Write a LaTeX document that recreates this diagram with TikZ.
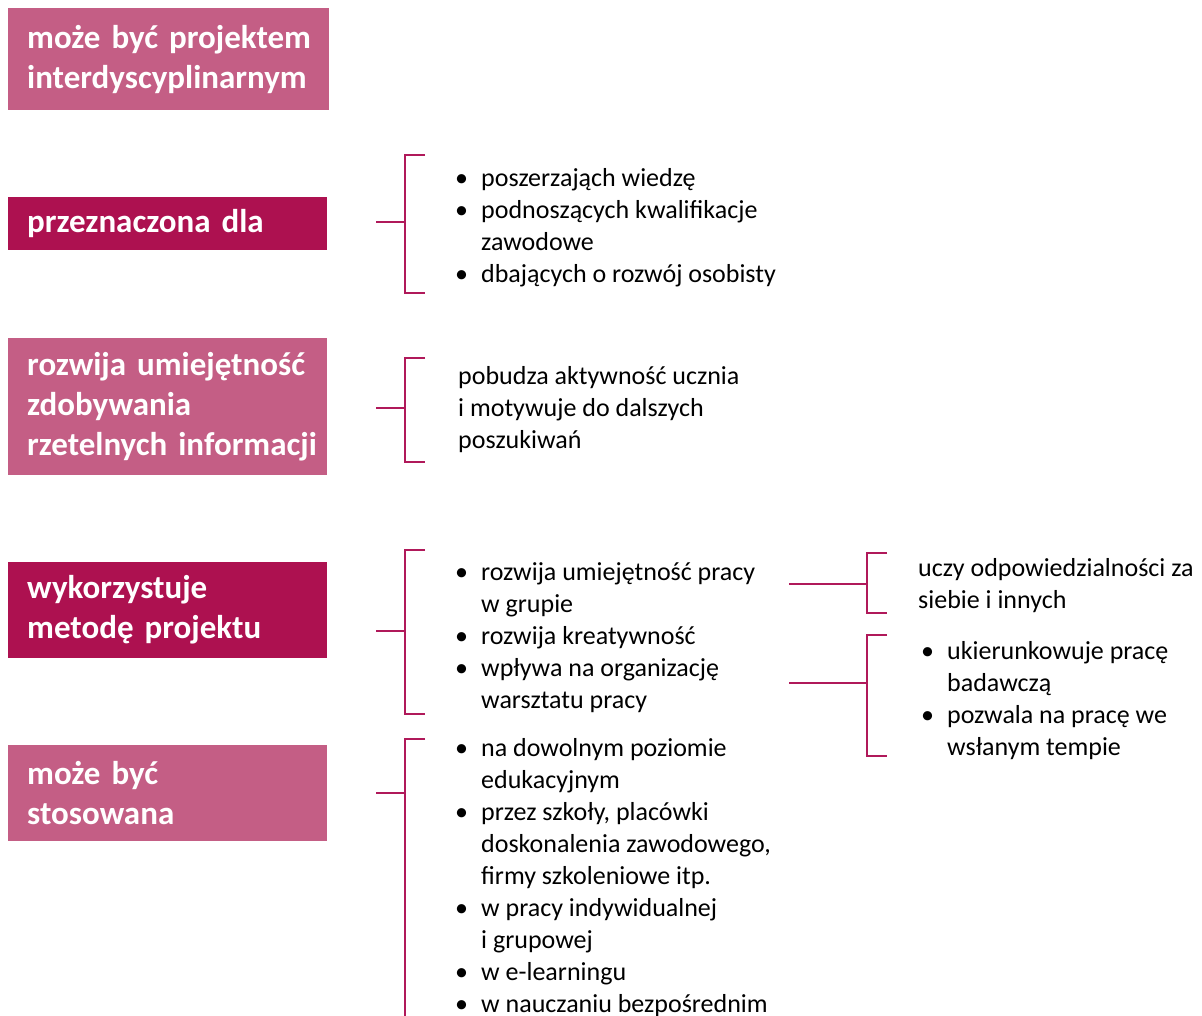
\documentclass[tikz,border=0pt]{standalone}
\usepackage{fontspec}
\setmainfont{Carlito}
\usetikzlibrary{positioning}

\definecolor{darkmag}{HTML}{AD1150}
\definecolor{lightmag}{HTML}{C45E85}
\definecolor{brkcol}{HTML}{B0195A}

\newcommand\bul{\strut\makebox[26pt][l]{\textbullet}}
\newcommand\ind{\strut\hspace*{26pt}}

\tikzset{
	box/.style={anchor=north west, text=white, font=\fontsize{33}{40}\selectfont\bfseries,
		align=left, text width=283pt, inner xsep=19pt, inner ysep=0pt},
	darkbox/.style={box, fill=darkmag},
	lightbox/.style={box, fill=lightmag},
	list/.style={anchor=north west, inner sep=0pt, align=left, font=\fontsize{26}{32}\selectfont},
	brk/.style={draw=brkcol, line width=1.5pt},
}

\begin{document}
\begin{tikzpicture}[x=1pt, y=-1pt]
	\useasboundingbox (0,0) rectangle (1202,1015);

	% left boxes
	\node[lightbox, minimum height=102pt, text width=283pt] (b1) at (8,8) {\mbox{może być projektem}\\\mbox{interdyscyplinarnym}};
	\node[darkbox, minimum height=53pt, text width=281pt] (b2) at (8,197) {\mbox{przeznaczona dla}};
	\node[lightbox, minimum height=137pt, text width=281pt] (b3) at (8,338) {\mbox{rozwija umiejętność}\\\mbox{zdobywania}\\\mbox{rzetelnych informacji}};
	\node[darkbox, minimum height=96pt, text width=281pt] (b4) at (8,562) {\mbox{wykorzystuje}\\\mbox{metodę projektu}};
	\node[lightbox, minimum height=96pt, text width=281pt] (b5) at (8,745) {\mbox{może być}\\\mbox{stosowana}};

	% texts
	\node[list] (l1) at (455,163.6) {\bul poszerzająch wiedzę\\ \bul podnoszących kwalifikacje\\ \ind zawodowe\\ \bul dbających o rozwój osobisty};
	\node[list] (l2) at (458,361.6) {\strut pobudza aktywność ucznia\\ \strut i motywuje do dalszych\\ \strut poszukiwań};
	\node[list] (l3) at (455,557.6) {\bul rozwija umiejętność pracy\\ \ind w grupie\\ \bul rozwija kreatywność\\ \bul wpływa na organizację\\ \ind warsztatu pracy};
	\node[list] (l4) at (455,733.6) {\bul na dowolnym poziomie\\ \ind edukacyjnym\\ \bul przez szkoły, placówki\\ \ind doskonalenia zawodowego,\\ \ind firmy szkoleniowe itp.\\ \bul w pracy indywidualnej\\ \ind i grupowej\\ \bul w e-learningu\\ \bul w nauczaniu bezpośrednim};
	\node[list] (r1) at (918,553.6) {\strut uczy odpowiedzialności za\\ \strut siebie i innych};
	\node[list] (r2) at (921,636.6) {\bul ukierunkowuje pracę\\ \ind badawczą\\ \bul pozwala na pracę we\\ \ind wsłanym tempie};

	% brackets
	\coordinate (k1) at (405,222);
	\coordinate (k2) at (405,408);
	\coordinate (k3) at (405,631);
	\coordinate (k4) at (405,793);
	\coordinate (k5) at (867,584);
	\coordinate (k6) at (867,683);

	\draw[brk] ([xshift=49]b2.east |- k1) -- (k1);
	\draw[brk] (425,155) -- (405,155) -- (405,293) -- (425,293);
	\draw[brk] ([xshift=49]b3.east |- k2) -- (k2);
	\draw[brk] (425,358) -- (405,358) -- (405,462) -- (425,462);
	\draw[brk] ([xshift=49]b4.east |- k3) -- (k3);
	\draw[brk] (425,550) -- (405,550) -- (405,714) -- (425,714);
	\draw[brk] ([xshift=49]b5.east |- k4) -- (k4);
	\draw[brk] (425,739) -- (405,739) -- (405,1030);

	\draw[brk] (789,584) -- (k5);
	\draw[brk] (887,553) -- (867,553) -- (867,613) -- (887,613);
	\draw[brk] (789,683) -- (k6);
	\draw[brk] (887,635) -- (867,635) -- (867,756) -- (887,756);
\end{tikzpicture}
\end{document}
